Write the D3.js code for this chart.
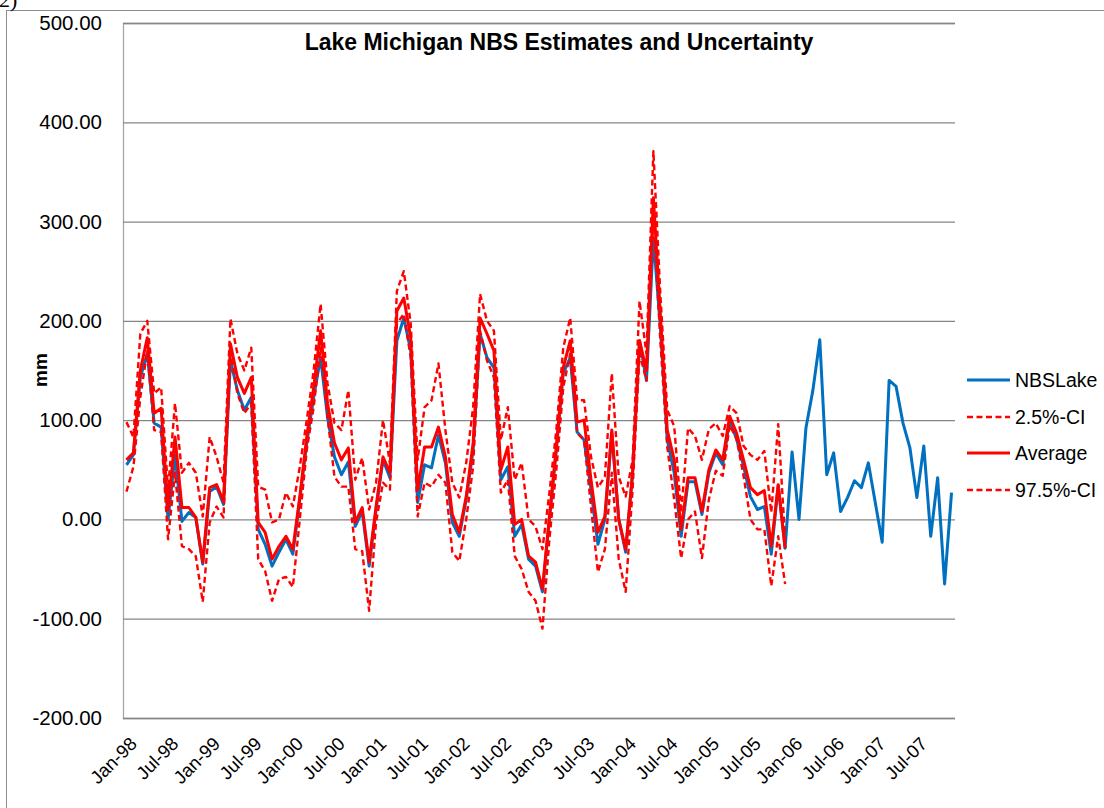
<!DOCTYPE html>
<html>
<head>
<meta charset="utf-8">
<script src="https://cdn.jsdelivr.net/npm/d3@7"></script>
<style>
  html, body { margin: 0; padding: 0; background: #fff; }
  svg { display: block; }
  text { font-family: "Liberation Sans", Arial, sans-serif; fill: #000; }
</style>
</head>
<body>
<svg id="chart" width="1104" height="808"></svg>
<script>
// ---------- DATA ----------
const monthNames = ["Jan","Feb","Mar","Apr","May","Jun","Jul","Aug","Sep","Oct","Nov","Dec"];
const years = ["98","99","00","01","02","03","04","05","06","07"];
const categories = [];
years.forEach(y => monthNames.forEach(m => categories.push(m + "-" + y)));

const tickLabels = ["Jan-98","Jul-98","Jan-99","Jul-99","Jan-00","Jul-00","Jan-01","Jul-01",
  "Jan-02","Jul-02","Jan-03","Jul-03","Jan-04","Jul-04","Jan-05","Jul-05","Jan-06","Jul-06",
  "Jan-07","Jul-07"];

const yTicks = [-200, -100, 0, 100, 200, 300, 400, 500];

const nbsLake = [55,65,143,167,97,93,0,65,-2,7,2,-45,
  28,33,15,160,130,110,123,-10,-25,-47,-33,-20,
  -35,20,77,123,163,103,63,45,58,-7,8,-47,
  10,60,42,180,203,170,17,55,52,85,57,-3,
  -17,20,70,187,163,153,40,53,-17,-5,-40,-47,
  -73,0,70,147,163,88,80,30,-25,0,87,0,
  -33,47,180,140,284,194,80,47,-17,38,38,5,
  47,67,55,99,81,54,23,10,13,-35,34,-29,
  68,0,92,130,181,45,67,8,22,39,32,57,
  17,-23,140,134,97,72,22,74,-17,42,-65,27];

const ci025 = [28,53,123,170,90,88,-20,47,-27,-30,-37,-83,
  -3,13,2,170,127,107,117,-40,-52,-82,-60,-58,
  -68,0,70,113,173,103,43,33,33,-30,-32,-92,
  -3,37,30,197,207,163,3,37,33,45,37,-33,
  -42,0,53,190,160,143,27,40,-37,-50,-73,-82,
  -110,-20,50,133,167,87,80,13,-53,-30,47,-40,
  -73,30,167,140,307,180,73,20,-39,0,8,-39,
  20,49,44,95,81,44,0,-10,-10,-67,-17,-65];

const average = [60,67,150,183,107,112,10,83,12,12,2,-43,
  32,35,18,177,143,127,143,-3,-13,-40,-27,-17,
  -30,23,83,133,190,117,77,60,72,-3,12,-43,
  13,63,47,210,223,183,30,73,73,93,63,5,
  -13,23,77,203,187,170,50,73,-5,0,-37,-43,
  -70,3,73,153,180,98,100,40,-13,3,90,0,
  -30,47,180,150,324,207,90,60,-10,42,42,8,
  50,70,60,104,87,60,32,25,29,-27,35,-29];

const ci975 = [98,83,187,200,127,133,30,117,47,57,47,3,
  83,63,37,202,167,150,173,33,30,-3,0,27,
  13,53,100,150,217,137,97,90,130,40,62,10,
  37,100,57,230,250,197,60,113,120,157,90,37,
  22,57,113,227,200,190,80,113,40,57,0,-7,
  -30,27,90,173,203,120,120,63,32,43,147,43,
  23,60,220,167,371,227,110,94,7,92,84,60,
  91,97,84,114,107,74,65,60,69,7,96,-20];

// ---------- LAYOUT ----------
const svg = d3.select("#chart");
const plot = { left: 123, right: 955, top: 23, bottom: 718 };

const x = d3.scalePoint().domain(categories).range([plot.left, plot.right]).padding(0.5);
const y = d3.scaleLinear().domain([-200, 500]).range([plot.bottom, plot.top]);

// outer chart border
svg.append("rect").attr("x", 6.5).attr("y", 10.5).attr("width", 1200).attr("height", 900)
  .attr("fill", "none").attr("stroke", "#8c8c8c").attr("stroke-width", 1);

// partial "2)" label at the top-left (cut by the page edge as in the reference)
svg.append("text").attr("x", -1).attr("y", 7)
  .style("font-family", "'Liberation Serif', serif").style("font-size", "22px").text("2)");

// gridlines + y axis
const yAxis = d3.axisLeft(y).tickValues(yTicks).tickSize(-(plot.right - plot.left))
  .tickFormat(d => d.toFixed(2)).tickPadding(21);
const gy = svg.append("g").attr("transform", `translate(${plot.left},0)`).call(yAxis);
gy.select(".domain").attr("stroke", "#a6a6a6").attr("stroke-width", 1.3);
gy.selectAll(".tick line").attr("stroke", "#868686").attr("stroke-width", 1.3);
gy.selectAll(".tick text").style("font-size", "20.5px").style("font-family", "'Liberation Sans', Arial, sans-serif")
  .attr("fill", "#000");

// x axis labels
const xAxis = d3.axisBottom(x).tickValues(tickLabels).tickSize(0).tickPadding(0);
const gx = svg.append("g").attr("transform", `translate(0,${plot.bottom})`).call(xAxis);
gx.select(".domain").remove();
gx.selectAll(".tick text")
  .style("font-size", "18.5px").style("font-family", "'Liberation Sans', Arial, sans-serif")
  .attr("fill", "#000")
  .attr("text-anchor", "end")
  .attr("dy", "0")
  .attr("transform", "translate(11,27) rotate(-45)");

// series
const line = d3.line().x((d, i) => x(categories[i])).y(d => y(d));

const series = [
  { name: "NBSLake", values: nbsLake, color: "#0070C0", width: 3, dash: null },
  { name: "2.5%-CI", values: ci025, color: "#FF0000", width: 2.4, dash: "6,3.5" },
  { name: "Average", values: average, color: "#FF0000", width: 3, dash: null },
  { name: "97.5%-CI", values: ci975, color: "#FF0000", width: 2.4, dash: "6,3.5" }
];

series.forEach(s => {
  svg.append("path").datum(s.values)
    .attr("d", line)
    .attr("fill", "none")
    .attr("stroke", s.color)
    .attr("stroke-width", s.width)
    .attr("stroke-linejoin", "round")
    .attr("stroke-dasharray", s.dash);
});

// title
svg.append("text").attr("x", 559).attr("y", 50).attr("text-anchor", "middle")
  .style("font-weight", "bold").style("font-size", "23px")
  .text("Lake Michigan NBS Estimates and Uncertainty");

// y-axis title
svg.append("text").attr("transform", "translate(47,370) rotate(-90)").attr("text-anchor", "middle")
  .style("font-weight", "bold").style("font-size", "19px").text("mm");

// legend
const legendY = [380, 417, 453, 490];
series.forEach((s, i) => {
  const g = svg.append("g").attr("transform", `translate(967,${legendY[i]})`);
  g.append("line").attr("x1", 0).attr("x2", 43).attr("y1", 0).attr("y2", 0)
    .attr("stroke", s.color).attr("stroke-width", s.width).attr("stroke-dasharray", s.dash);
  g.append("text").attr("x", 48).attr("y", 0).attr("dy", "0.35em")
    .style("font-size", "19.5px").text(s.name);
});
</script>
</body>
</html>
